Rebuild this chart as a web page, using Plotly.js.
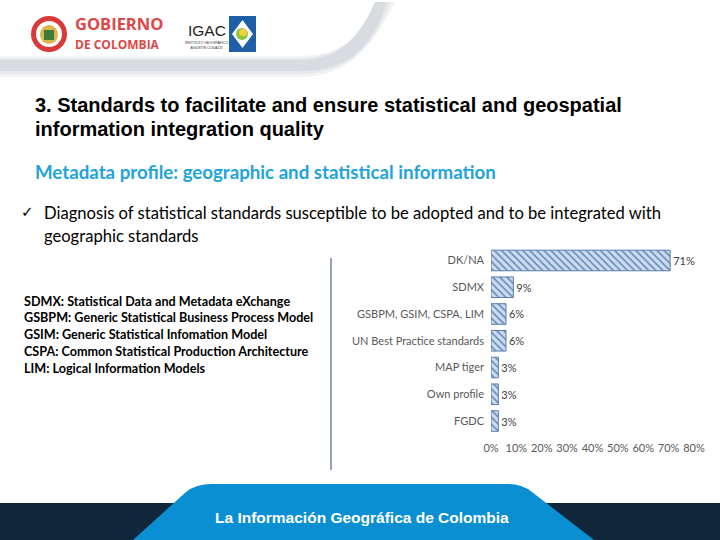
<!DOCTYPE html>
<html>
<head>
<meta charset="utf-8">
<script src="https://cdn.plot.ly/plotly-3.0.1.min.js"></script>
<style>html,body{margin:0;padding:0;background:#fff;}#chart{width:720px;height:540px;}</style>
</head>
<body>
<div id="chart"></div>
<script>
const categories = ["DK/NA", "SDMX", "GSBPM, GSIM, CSPA, LIM", "UN Best Practice standards", "MAP tiger", "Own profile", "FGDC"];
const shares = [70.6, 8.8, 5.9, 5.9, 2.9, 2.9, 2.9];
const tickValues = [0, 10, 20, 30, 40, 50, 60, 70, 80];
const tickLabels = ["0%", "10%", "20%", "30%", "40%", "50%", "60%", "70%", "80%"];
const glossary = [
  "SDMX: Statistical Data and Metadata eXchange",
  "GSBPM: Generic Statistical Business Process Model",
  "GSIM: Generic Statistical Infomation Model",
  "CSPA: Common Statistical Production Architecture",
  "LIM: Logical Information Models"
];

const W = 720, H = 540;
const px = x => x / W;
const py = y => 1 - y / H;
const P = (x, y) => px(x) + ' ' + py(y);

const shapes = [];
// header shadow (layered soft grey band curving up on the right)
const shadowLayers = [
  {t:56, b:77, r:0, c:'#f2f3f5'},
  {t:58, b:74, r:4, c:'#e6e8eb'},
  {t:60, b:71, r:8, c:'#d8dce0'}
];
shadowLayers.forEach(s => {
  shapes.push({type:'path', xref:'paper', yref:'paper', layer:'below',
    path:`M ${P(0, s.t)} L ${P(300, s.t)} C ${P(338, s.t)} ${P(358, 40)} ${P(383 - s.r, 2)} L ${P(395 - s.r, 2)} C ${P(372, 48)} ${P(348, s.b)} ${P(300, s.b)} L ${P(0, s.b)} Z`,
    fillcolor:s.c, line:{width:0}});
});
// emblem
shapes.push({type:'circle', xref:'paper', yref:'paper', x0:px(31), x1:px(67), y0:py(52), y1:py(16), fillcolor:'#d83a3a', line:{width:0}});
shapes.push({type:'circle', xref:'paper', yref:'paper', x0:px(36), x1:px(62), y0:py(47), y1:py(21), fillcolor:'#ffffff', line:{width:0}});
shapes.push({type:'circle', xref:'paper', yref:'paper', x0:px(40), x1:px(58), y0:py(44), y1:py(25), fillcolor:'#d8b84a', line:{width:0}});
shapes.push({type:'rect', xref:'paper', yref:'paper', x0:px(44), x1:px(54), y0:py(40), y1:py(30), fillcolor:'#3f7a3a', line:{width:0}});
// IGAC box
shapes.push({type:'rect', xref:'paper', yref:'paper', x0:px(229), x1:px(256), y0:py(52), y1:py(16), fillcolor:'#1f5fa8', line:{width:0}});
shapes.push({type:'path', xref:'paper', yref:'paper',
  path:`M ${P(242.5, 20)} L ${P(253, 34)} L ${P(242.5, 48)} L ${P(232, 34)} Z`,
  fillcolor:'#ffffff', line:{width:0}});
shapes.push({type:'circle', xref:'paper', yref:'paper', x0:px(236), x1:px(248), y0:py(40), y1:py(28), fillcolor:'#8cc63f', line:{width:0}});
shapes.push({type:'circle', xref:'paper', yref:'paper', x0:px(239), x1:px(247), y0:py(36), y1:py(29), fillcolor:'#f2d13a', line:{width:0}});
// left vertical divider
shapes.push({type:'line', xref:'paper', yref:'paper', x0:px(331), x1:px(331), y0:py(258), y1:py(470), line:{color:'#5b7393', width:1.3}});
// footer
shapes.push({type:'rect', xref:'paper', yref:'paper', x0:0, x1:1, y0:0, y1:py(503), fillcolor:'#10263a', line:{width:0}});
shapes.push({type:'path', xref:'paper', yref:'paper',
  path:`M ${P(133, 540)} L ${P(186, 492)} Q ${P(196, 484)} ${P(212, 484)} L ${P(508, 484)} Q ${P(522, 484)} ${P(532, 492)} L ${P(594, 540)} Z`,
  fillcolor:'#0a8fd3', line:{width:0}});

const annotations = [];
const add = (x, y, text, font, anchor) => annotations.push({xref:'paper', yref:'paper', x:px(x), y:py(y),
  xanchor:anchor || 'left', yanchor:'middle', showarrow:false, text:text, font:font});

add(73, 24, '<b>GOBIERNO</b>', {family:'Open Sans, Arial', size:16.5, color:'#dc4848'});
add(73, 44, '<b>DE COLOMBIA</b>', {family:'Open Sans, Arial', size:12, color:'#dc4848'});
add(186, 30, 'IGAC', {family:'Liberation Sans, Arial', size:15.5, color:'#222'});
add(207, 45, 'INSTITUTO GEOGRÁFICO<br>AGUSTÍN CODAZZI', {family:'Liberation Sans, Arial', size:3.5, color:'#333'}, 'center');
const titleFont = {family:'Liberation Sans, Arial', size:20, color:'#000'};
add(33, 105, '<b>3. Standards to facilitate and ensure statistical and geospatial</b>', titleFont);
add(33, 129, '<b>information integration quality</b>', titleFont);
add(33, 172, '<b>Metadata profile: geographic and statistical information</b>', {family:'Lato, Open Sans', size:18.7, color:'#22a3db'});
add(19, 212, '✓', {family:'DejaVu Sans', size:15, color:'#000'});
const bodyFont = {family:'Lato, Open Sans', size:16.6, color:'#000'};
add(42, 213, 'Diagnosis of statistical standards susceptible to be adopted and to be integrated with', bodyFont);
add(42, 236, 'geographic standards', bodyFont);
glossary.forEach((t, i) => add(22, 301 + i * 16.8, '<b>' + t + '</b>', {family:'Lato, Open Sans', size:12.6, color:'#000'}));
add(362, 517, '<b>La Información Geográfica de Colombia</b>', {family:'Liberation Sans, Arial', size:15.5, color:'#ffffff'}, 'center');

const trace = {
  type:'bar', orientation:'h', y:categories, x:shares, width:0.77,
  marker:{color:'#c6d9f0', line:{color:'#5b7ea6', width:1},
    pattern:{shape:'\\', fgcolor:'#6686b0', bgcolor:'#c9dcf2', size:5, solidity:0.3}},
  texttemplate:'%{x:.0f}%', textposition:'outside', cliponaxis:false,
  textfont:{family:'Lato, Open Sans', size:11, color:'#404040'},
  hoverinfo:'none'
};

const layout = {
  width:W, height:H, margin:{l:0, r:0, t:0, b:0},
  paper_bgcolor:'#ffffff', plot_bgcolor:'rgba(0,0,0,0)',
  showlegend:false,
  xaxis:{domain:[px(491), px(694)], range:[0, 80], tickvals:tickValues, ticktext:tickLabels,
    showgrid:false, zeroline:false, showline:false, ticks:'', ticklabelstandoff:6,
    tickfont:{family:'Lato, Open Sans', size:11, color:'#595959'}, fixedrange:true},
  yaxis:{domain:[py(434.4), py(247.1)], type:'category', range:[6.5, -0.5], showgrid:false, zeroline:false,
    showline:false, ticks:'', ticklabelstandoff:6,
    tickfont:{family:'Lato, Open Sans', size:11, color:'#595959'}, fixedrange:true},
  shapes:shapes, annotations:annotations
};

Plotly.newPlot('chart', [trace], layout, {displayModeBar:false, staticPlot:true});
</script>
</body>
</html>
